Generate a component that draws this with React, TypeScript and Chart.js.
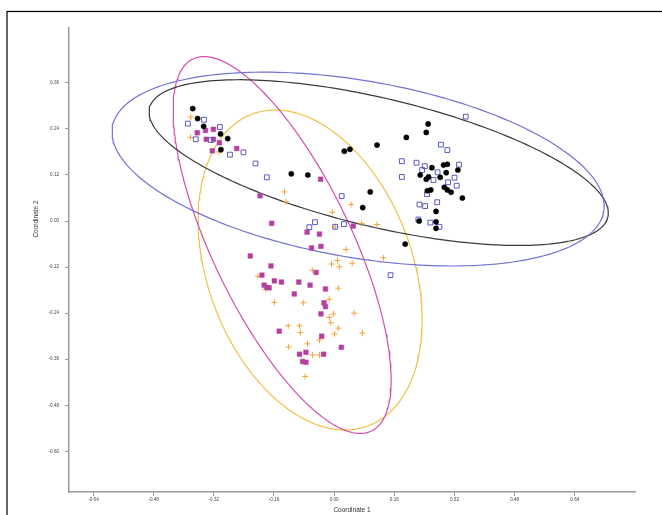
import { useEffect, useRef } from "react";
import { Chart, registerables } from "chart.js";

Chart.register(...registerables);

// Axis ticks
const xTicks = [-0.64, -0.48, -0.32, -0.16, 0, 0.16, 0.32, 0.48, 0.64];
const yTicks = [0.36, 0.24, 0.12, 0, -0.12, -0.24, -0.36, -0.48, -0.6];
const xTitle = "Coordinate 1";
const yTitle = "Coordinate 2";

// Group 1: black filled circles
const blackPoints: [number, number][] = [
  [-0.376, 0.293], [-0.363, 0.267], [-0.347, 0.247], [-0.302, 0.227], [-0.283, 0.215],
  [-0.301, 0.186], [-0.114, 0.123], [-0.07, 0.12], [0.25, 0.253], [0.245, 0.231],
  [0.192, 0.218], [0.114, 0.198], [0.042, 0.187], [0.027, 0.182], [0.096, 0.076],
  [0.076, 0.035], [0.26, 0.139], [0.291, 0.146], [0.301, 0.148], [0.298, 0.126],
  [0.329, 0.133], [0.229, 0.12], [0.251, 0.115], [0.245, 0.109], [0.282, 0.114],
  [0.293, 0.088], [0.301, 0.081], [0.311, 0.075], [0.248, 0.079], [0.257, 0.081],
  [0.341, 0.06], [0.271, 0.025], [0.226, 0.0], [0.271, -0.002], [0.271, -0.019],
  [0.189, -0.06],
];

// Group 2: blue open squares
const bluePoints: [number, number][] = [
  [-0.389, 0.254], [-0.346, 0.264], [-0.304, 0.245], [-0.368, 0.213], [-0.328, 0.211],
  [-0.277, 0.173], [-0.241, 0.179], [-0.209, 0.15], [-0.179, 0.114], [0.35, 0.272],
  [0.284, 0.199], [0.301, 0.185], [0.18, 0.156], [0.219, 0.152], [0.241, 0.143],
  [0.234, 0.133], [0.275, 0.127], [0.332, 0.147], [0.264, 0.107], [0.32, 0.113],
  [0.303, 0.101], [0.326, 0.092], [0.18, 0.115], [0.247, 0.07], [0.274, 0.049],
  [0.227, 0.043], [0.242, 0.039], [0.224, 0.004], [0.256, -0.004], [0.28, -0.015],
  [0.02, 0.065], [-0.051, -0.003], [-0.066, -0.016], [0.003, -0.015], [0.026, -0.008],
  [0.15, -0.141],
];

// Group 3: magenta filled squares
const magentaPoints: [number, number][] = [
  [-0.364, 0.23], [-0.342, 0.236], [-0.321, 0.239], [-0.34, 0.213], [-0.321, 0.213],
  [-0.305, 0.204], [-0.324, 0.183], [-0.259, 0.189], [-0.036, 0.109], [-0.197, 0.066],
  [-0.166, -0.006], [-0.072, -0.029], [-0.039, -0.034], [0.051, -0.013], [-0.06, -0.07],
  [-0.035, -0.066], [-0.223, -0.091], [-0.168, -0.117], [-0.192, -0.141], [-0.186, -0.167],
  [-0.179, -0.173], [-0.173, -0.174], [-0.159, -0.156], [-0.14, -0.159], [-0.094, -0.159],
  [-0.064, -0.167], [-0.048, -0.134], [-0.106, -0.19], [-0.023, -0.177], [-0.027, -0.213],
  [-0.023, -0.223], [-0.035, -0.242], [-0.146, -0.287], [-0.033, -0.3], [0.019, -0.329],
  [-0.092, -0.347], [-0.075, -0.342], [-0.028, -0.347], [-0.084, -0.366], [-0.075, -0.368],
];

// Group 4: orange crosses
const orangePoints: [number, number][] = [
  [-0.381, 0.271], [-0.382, 0.218], [-0.306, 0.18], [-0.132, 0.076], [-0.128, 0.05],
  [0.045, 0.043], [-0.005, 0.023], [0.073, -0.006], [0.114, -0.009], [0.003, -0.015],
  [0.032, -0.074], [0.131, -0.096], [0.009, -0.103], [-0.007, -0.112], [0.014, -0.119],
  [0.048, -0.11], [-0.058, -0.128], [-0.203, -0.144], [-0.182, -0.178], [0.011, -0.175],
  [-0.159, -0.212], [-0.082, -0.213], [-0.013, -0.204], [-0.002, -0.242], [0.053, -0.24],
  [-0.013, -0.251], [-0.009, -0.265], [-0.122, -0.273], [-0.092, -0.273], [-0.09, -0.291],
  [-0.039, -0.31], [0.001, -0.294], [0.011, -0.279], [0.075, -0.292], [-0.071, -0.32],
  [-0.121, -0.328], [-0.057, -0.349], [-0.039, -0.349], [-0.077, -0.405],
];

// Confidence ellipses: center and two conjugate semi-axis vectors (data units)
const ellipseColors = ["#7272d4", "#3a3a3a", "#d24fb4", "#f0c24a"];
const ellipseCenters: [number, number][] = [
  [0.0638, 0.1354], [0.1184, 0.1523], [-0.1383, -0.0625], [-0.0638, -0.1276],
];
const ellipseMajor: [number, number][] = [
  [0.6531, -0.1105], [0.6093, -0.1421], [0.2372, -0.4847], [0.1535, -0.4064],
];
const ellipseMinor: [number, number][] = [
  [-0.0401, -0.2271], [-0.0396, -0.1626], [-0.1667, -0.0782], [-0.2552, -0.0924],
];
const ELLIPSE_STEPS = 240;

function ellipsePath(i: number) {
  const [cx, cy] = ellipseCenters[i];
  const [ax, ay] = ellipseMajor[i];
  const [bx, by] = ellipseMinor[i];
  const pts: { x: number; y: number }[] = [];
  for (let k = 0; k <= ELLIPSE_STEPS; k++) {
    const t = (k / ELLIPSE_STEPS) * Math.PI * 2;
    const c = Math.cos(t);
    const s = Math.sin(t);
    pts.push({ x: cx + ax * c + bx * s, y: cy + ay * c + by * s });
  }
  return pts;
}

const toXY = (arr: [number, number][]) => arr.map(([x, y]) => ({ x, y }));

const framePlugin = {
  id: "frameAndTitles",
  afterDraw(chart: any) {
    const ctx = chart.ctx;
    ctx.save();
    ctx.strokeStyle = "#000";
    ctx.lineWidth = 1.2;
    ctx.strokeRect(7, 11.5, 800, 700);
    ctx.fillStyle = "#333";
    ctx.font = "6.5px 'Liberation Sans', Arial, sans-serif";
    ctx.textAlign = "center";
    ctx.textBaseline = "middle";
    const area = chart.chartArea;
    ctx.fillText(xTitle, (area.left + area.right) / 2, 510);
    ctx.translate(36, 219);
    ctx.rotate(-Math.PI / 2);
    ctx.fillText(yTitle, 0, 0);
    ctx.restore();
  },
};

export default function App() {
  const ref = useRef<HTMLCanvasElement | null>(null);
  useEffect(() => {
    if (!ref.current) return;
    const tickFont = { size: 4.6, family: "'Liberation Sans', Arial, sans-serif" };
    const chart = new Chart(ref.current, {
      type: "scatter",
      data: {
        datasets: [
          {
            label: "g1",
            data: toXY(blackPoints),
            pointStyle: "circle",
            pointRadius: 2.6,
            backgroundColor: "#000",
            borderColor: "#000",
            borderWidth: 0.5,
          },
          {
            label: "g2",
            data: toXY(bluePoints),
            pointStyle: "rect",
            pointRadius: 3.4,
            backgroundColor: "rgba(255,255,255,0)",
            borderColor: "#5a5ac4",
            borderWidth: 1,
          },
          {
            label: "g3",
            data: toXY(magentaPoints),
            pointStyle: "rect",
            pointRadius: 3.3,
            backgroundColor: "#b4409e",
            borderColor: "#b4409e",
            borderWidth: 0.5,
          },
          {
            label: "g4",
            data: toXY(orangePoints),
            pointStyle: "cross",
            pointRadius: 3,
            backgroundColor: "#f5a23c",
            borderColor: "#f5a23c",
            borderWidth: 1,
          },
          ...ellipseColors.map((col, i) => ({
            label: "e" + i,
            data: ellipsePath(i),
            showLine: true,
            pointRadius: 0,
            borderColor: col,
            borderWidth: 1.2,
            fill: false,
            tension: 0,
          })),
        ] as any,
      },
      options: {
        animation: false,
        responsive: false,
        devicePixelRatio: 1,
        layout: { padding: { top: 28, right: 27, left: 0, bottom: 0 } },
        plugins: { legend: { display: false }, tooltip: { enabled: false } },
        scales: {
          x: {
            type: "linear",
            min: -0.705,
            max: 0.8,
            afterBuildTicks: (s: any) => {
              s.ticks = xTicks.map((v) => ({ value: v }));
            },
            afterFit: (s: any) => {
              s.height = 23;
            },
            ticks: {
              font: tickFont,
              color: "#444",
              padding: 1,
              maxRotation: 0,
              autoSkip: false,
              callback: (v: any) => Number(v).toFixed(2),
            },
            grid: { drawOnChartArea: false, tickLength: 4, color: "#999", lineWidth: 1 },
            border: { color: "#9a9a9a", width: 1.5 },
          },
          y: {
            type: "linear",
            min: -0.706,
            max: 0.503,
            afterBuildTicks: (s: any) => {
              s.ticks = yTicks.map((v) => ({ value: v }));
            },
            afterFit: (s: any) => {
              s.width = 69;
            },
            ticks: {
              font: tickFont,
              color: "#444",
              padding: 6,
              autoSkip: false,
              callback: (v: any) => Number(v).toFixed(2),
            },
            grid: { drawOnChartArea: false, tickLength: 4, color: "#999", lineWidth: 1 },
            border: { color: "#9a9a9a", width: 1.5 },
          },
        },
      } as any,
      plugins: [framePlugin],
    });
    return () => chart.destroy();
  }, []);
  return (
    <div style={{ position: "fixed", left: 0, top: 0, width: 662, height: 515, background: "#fff" }}>
      <canvas ref={ref} width={662} height={515} style={{ display: "block" }} />
    </div>
  );
}
